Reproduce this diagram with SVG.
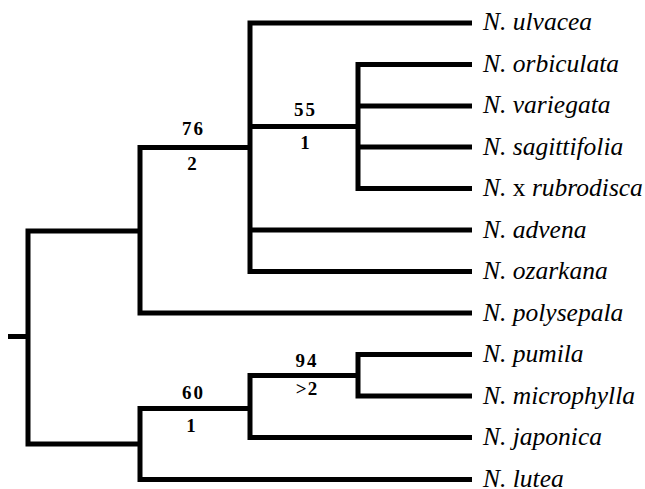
<svg xmlns="http://www.w3.org/2000/svg" width="645" height="489" viewBox="0 0 645 489">
<style>
.br{fill:none;stroke:#000;stroke-width:5;stroke-linejoin:miter;stroke-linecap:butt}
.tx{font-family:"Liberation Serif","Times New Roman",serif;font-style:italic;font-size:25.5px;fill:#000}
.rm{font-style:normal}
.sv{font-family:"Liberation Serif","Times New Roman",serif;font-weight:bold;font-size:19px;fill:#000;text-anchor:middle;letter-spacing:2px}
</style>
<rect width="645" height="489" fill="#fff"/>
<g id="connectors">
<path class="br" d="M472,64.5 H358 V188.5 H472 M358,106 H472 M358,147 H472"/>
<path class="br" d="M472,23 H250 V271.5 H472 M250,230 H472 M250,126.5 H358"/>
<path class="br" d="M250,147.5 H140 V313 H472"/>
<path class="br" d="M472,354.5 H358 V396 H472"/>
<path class="br" d="M358,375.5 H250 V437.5 H472"/>
<path class="br" d="M250,408.5 H140 V479.5 H472"/>
<path class="br" d="M140,231 H28 V444 H140"/>
<path class="br" d="M8,336.5 H28"/>
</g>
<g id="support">
<text class="sv" x="193.5" y="135">76</text>
<text class="sv" x="193" y="170">2</text>
<text class="sv" x="305.5" y="116">55</text>
<text class="sv" x="306" y="148.5">1</text>
<text class="sv" x="307" y="366.5">94</text>
<text class="sv" x="307" y="395" style="letter-spacing:1px">&gt;2</text>
<text class="sv" x="193.5" y="398.5">60</text>
<text class="sv" x="192" y="431.5">1</text>
</g>
<g id="n-ulvacea"><text class="tx" x="483" y="30">N. ulvacea</text></g>
<g id="n-orbiculata"><text class="tx" x="483" y="71.5">N. orbiculata</text></g>
<g id="n-variegata"><text class="tx" x="483" y="113">N. variegata</text></g>
<g id="n-sagittifolia"><text class="tx" x="483" y="154.5">N. sagittifolia</text></g>
<g id="n-rubrodisca"><text class="tx" x="483" y="196">N. <tspan class="rm">x</tspan> rubrodisca</text></g>
<g id="n-advena"><text class="tx" x="483" y="237.5">N. advena</text></g>
<g id="n-ozarkana"><text class="tx" x="483" y="279">N. ozarkana</text></g>
<g id="n-polysepala"><text class="tx" x="483" y="320.5">N. polysepala</text></g>
<g id="n-pumila"><text class="tx" x="483" y="362">N. pumila</text></g>
<g id="n-microphylla"><text class="tx" x="483" y="403.5">N. microphylla</text></g>
<g id="n-japonica"><text class="tx" x="483" y="445">N. japonica</text></g>
<g id="n-lutea"><text class="tx" x="483" y="486.5">N. lutea</text></g>
</svg>
